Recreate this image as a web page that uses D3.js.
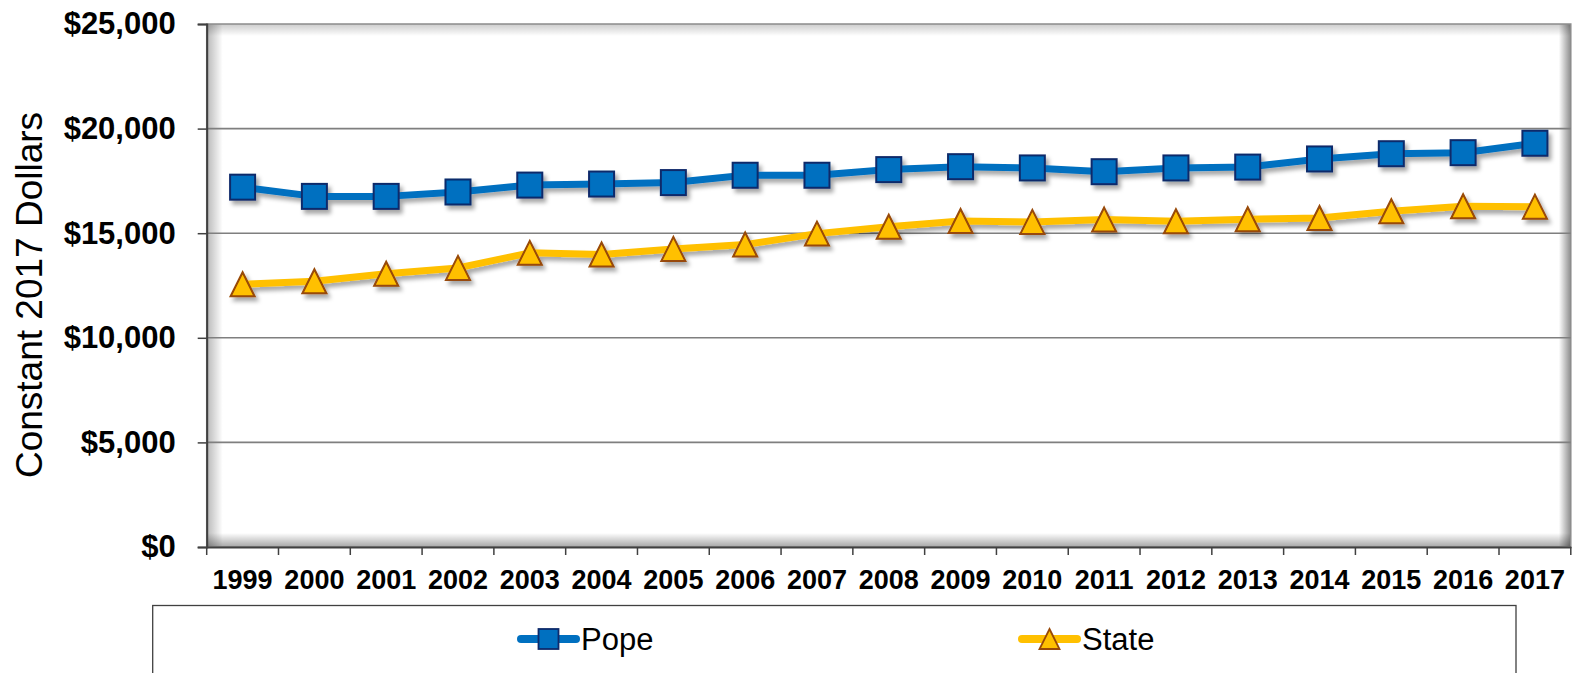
<!DOCTYPE html>
<html>
<head>
<meta charset="utf-8">
<script src="https://cdn.jsdelivr.net/npm/d3@7"></script>
<style>
  html, body { margin: 0; padding: 0; background: #fff; }
  svg { display: block; font-family: "Liberation Sans", Arial, sans-serif; }
</style>
</head>
<body>
<svg id="chart" width="1573" height="673"></svg>
<script>
const years = ["1999","2000","2001","2002","2003","2004","2005","2006","2007","2008","2009","2010","2011","2012","2013","2014","2015","2016","2017"];
const popeValues = [17200,16760,16760,16970,17300,17350,17420,17770,17770,18040,18180,18120,17940,18120,18160,18550,18800,18850,19300];
const stateValues = [12560,12700,13060,13340,14060,13980,14250,14460,14980,15310,15580,15540,15650,15570,15670,15730,16050,16290,16270];
const yTicks = [0,5000,10000,15000,20000,25000];
const seriesNames = ["Pope","State"];
const yTitle = "Constant 2017 Dollars";

const svg = d3.select("#chart");
const L = 206.7, R = 1570.8, T = 24, B = 547;

const x = d3.scaleBand().domain(years).range([L, R]).padding(0);
const y = d3.scaleLinear().domain([0, 25000]).range([B, T]);

const defs = svg.append("defs");
const f = defs.append("filter").attr("id","shadow").attr("x","-20%").attr("y","-20%").attr("width","140%").attr("height","160%");
f.append("feDropShadow").attr("dx",3).attr("dy",4).attr("stdDeviation",2.2).attr("flood-color","#000").attr("flood-opacity",0.35);

function grad(id, x1, y1, x2, y2, op) {
  const g = defs.append("linearGradient").attr("id", id).attr("x1",x1).attr("y1",y1).attr("x2",x2).attr("y2",y2);
  g.append("stop").attr("offset","0%").attr("stop-color","#000").attr("stop-opacity",op);
  g.append("stop").attr("offset","100%").attr("stop-color","#000").attr("stop-opacity",0);
}
grad("gL","0","0","1","0",0.28);
grad("gR","1","0","0","0",0.45);
grad("gT","0","0","0","1",0.2);
grad("gB","0","1","0","0",0.35);

// plot background
svg.append("rect").attr("x",L).attr("y",T).attr("width",R-L).attr("height",B-T).attr("fill","#fff");
// inner shadows
svg.append("rect").attr("x",L).attr("y",T).attr("width",16).attr("height",B-T).attr("fill","url(#gL)");
svg.append("rect").attr("x",R-12).attr("y",T).attr("width",12).attr("height",B-T).attr("fill","url(#gR)");
svg.append("rect").attr("x",L).attr("y",T).attr("width",R-L).attr("height",12).attr("fill","url(#gT)");
svg.append("rect").attr("x",L).attr("y",B-14).attr("width",R-L).attr("height",14).attr("fill","url(#gB)");
svg.append("rect").attr("x",L).attr("y",T).attr("width",R-L).attr("height",B-T)
  .attr("fill","none").attr("stroke","#8c8c8c").attr("stroke-width",1.5);

// gridlines
svg.append("g").selectAll("line").data(yTicks.filter(d => d > 0 && d < 25000)).join("line")
  .attr("x1", L).attr("x2", R).attr("y1", d => y(d)).attr("y2", d => y(d))
  .attr("stroke","#7f7f7f").attr("stroke-width",1.6);

// y axis
const yAxis = svg.append("g").attr("transform",`translate(${L},0)`)
  .call(d3.axisLeft(y).tickValues(yTicks).tickSize(9).tickPadding(22).tickFormat(d => "$" + d3.format(",")(d)));
yAxis.select(".domain").attr("stroke","#404040").attr("stroke-width",2);
yAxis.selectAll(".tick line").attr("stroke","#404040").attr("stroke-width",1.5);
yAxis.selectAll(".tick text").attr("font-size",31).attr("font-weight","bold").attr("fill","#000")
  .attr("font-family","Liberation Sans, Arial, sans-serif");

// x axis labels
const xAxis = svg.append("g").attr("transform",`translate(0,${B})`)
  .call(d3.axisBottom(x).tickSize(0).tickPadding(23));
xAxis.select(".domain").attr("stroke","#404040").attr("stroke-width",2);
xAxis.selectAll(".tick text").attr("font-size",27).attr("font-weight","bold").attr("fill","#000")
  .attr("font-family","Liberation Sans, Arial, sans-serif");
// boundary tick marks
const bounds = years.map(d => x(d)).concat([x(years[years.length-1]) + x.bandwidth()]);
svg.append("g").selectAll("line").data(bounds).join("line")
  .attr("x1", d => d).attr("x2", d => d).attr("y1", B).attr("y2", B + 8)
  .attr("stroke","#404040").attr("stroke-width",1.5);

// y title
svg.append("text").attr("transform","translate(42,295) rotate(-90)")
  .attr("text-anchor","middle").attr("font-size",37).attr("fill","#000").text(yTitle);

const cx = d => x(d) + x.bandwidth()/2;
const line = d3.line().x(d => cx(d[0])).y(d => y(d[1]));

const popeData = years.map((d,i) => [d, popeValues[i]]);
const stateData = years.map((d,i) => [d, stateValues[i]]);

const sq = 25, tri = 24;
const triPath = s => `M0,${-s/2}L${s/2},${s/2}L${-s/2},${s/2}Z`;

// State series
const gs = svg.append("g").attr("filter","url(#shadow)");
gs.append("path").datum(stateData).attr("d", line).attr("fill","none")
  .attr("stroke","#ffc000").attr("stroke-width",7).attr("stroke-linejoin","round");
gs.selectAll("path.m").data(stateData).join("path").attr("class","m")
  .attr("transform", d => `translate(${cx(d[0])},${y(d[1])})`)
  .attr("d", triPath(tri)).attr("fill","#ffc000").attr("stroke","#984807").attr("stroke-width",2);

// Pope series
const gp = svg.append("g").attr("filter","url(#shadow)");
gp.append("path").datum(popeData).attr("d", line).attr("fill","none")
  .attr("stroke","#0070c0").attr("stroke-width",7).attr("stroke-linejoin","round");
gp.selectAll("rect").data(popeData).join("rect")
  .attr("x", d => cx(d[0]) - sq/2).attr("y", d => y(d[1]) - sq/2)
  .attr("width", sq).attr("height", sq)
  .attr("fill","#0070c0").attr("stroke","#0d2a6b").attr("stroke-width",2);

// legend
svg.append("rect").attr("x",152.7).attr("y",605.5).attr("width",1516-152.7).attr("height",90)
  .attr("fill","#fff").attr("stroke","#404040").attr("stroke-width",1.3);
const legY = 639;
const lg = [
  {name: seriesNames[0], x0: 521, color: "#0070c0", stroke: "#0d2a6b", shape: "sq"},
  {name: seriesNames[1], x0: 1022, color: "#ffc000", stroke: "#984807", shape: "tri"}
];
lg.forEach(o => {
  svg.append("line").attr("x1", o.x0).attr("x2", o.x0 + 55).attr("y1", legY).attr("y2", legY)
    .attr("stroke", o.color).attr("stroke-width", 8).attr("stroke-linecap","round");
  const mx = o.x0 + 27.5;
  if (o.shape === "sq") {
    svg.append("rect").attr("x", mx-10).attr("y", legY-10).attr("width",20).attr("height",20)
      .attr("fill", o.color).attr("stroke", o.stroke).attr("stroke-width",1.8);
  } else {
    svg.append("path").attr("transform",`translate(${mx},${legY})`).attr("d", triPath(20))
      .attr("fill", o.color).attr("stroke", o.stroke).attr("stroke-width",1.8);
  }
  svg.append("text").attr("x", o.x0 + 60).attr("y", legY + 11).attr("font-size",31).attr("fill","#000").text(o.name);
});
</script>
</body>
</html>
